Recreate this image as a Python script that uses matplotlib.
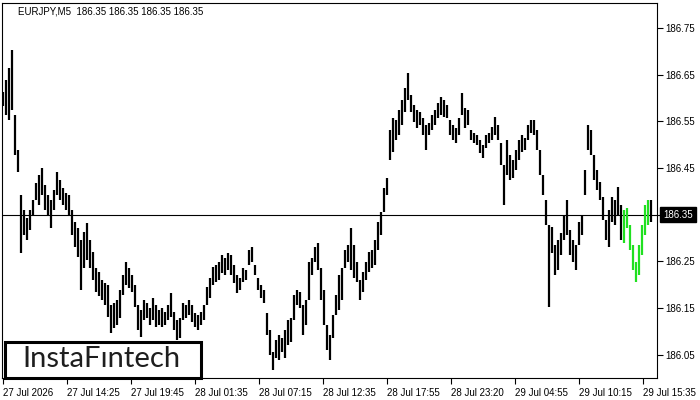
import numpy as np
import matplotlib
matplotlib.use("Agg")
import matplotlib.pyplot as plt
from matplotlib.patches import Rectangle

# ---- data: 15-minute groups of EURJPY M5 bars (high / low) ----
highs = [186.613,186.639,186.664,186.703,186.564,186.489,186.393,186.360,186.343,186.360,
         186.382,186.418,186.435,186.450,186.414,186.393,186.382,186.403,186.442,186.425,
         186.407,186.397,186.393,186.360,186.335,186.322,186.296,186.313,186.333,186.296,
         186.270,186.236,186.228,186.210,186.204,186.200,186.157,186.161,186.168,186.189,
         186.221,186.249,186.236,186.221,186.200,186.157,186.146,186.168,186.161,186.151,
         186.172,186.157,186.146,186.151,186.142,186.157,186.183,186.142,186.125,186.129,
         186.161,186.157,186.168,186.157,186.140,186.136,186.142,186.157,186.196,186.215,
         186.238,186.243,186.249,186.264,186.258,186.268,186.264,186.243,186.221,186.215,
         186.236,186.232,186.275,186.281,186.243,186.215,186.200,186.189,186.140,186.103,
         186.056,186.082,186.093,186.086,186.103,186.125,186.129,186.178,186.189,186.185,
         186.157,186.168,186.249,186.258,186.281,186.290,186.236,186.189,186.114,186.093,
         186.136,186.178,186.221,186.236,186.275,186.285,186.322,186.285,186.249,186.210,
         186.228,186.249,186.270,186.275,186.296,186.335,186.356,186.407,186.429,186.532,
         186.557,186.553,186.574,186.596,186.622,186.654,186.607,186.585,186.574,186.570,
         186.557,186.542,186.547,186.564,186.574,186.589,186.602,186.596,186.585,186.553,
         186.542,186.536,186.557,186.611,186.579,186.574,186.532,186.525,186.521,186.510,
         186.500,186.521,186.525,186.538,186.560,186.542,186.504,186.457,186.510,186.478,
         186.467,186.489,186.510,186.521,186.515,186.542,186.553,186.553,186.532,186.489,
         186.435,186.382,186.328,186.324,186.285,186.296,186.311,186.350,186.382,186.318,
         186.296,186.285,186.335,186.350,186.446,186.542,186.532,186.478,186.446,186.420,
         186.388,186.339,186.360,186.388,186.382,186.410,186.371,186.360,186.365,186.328,
         186.285,186.249,186.285,186.328,186.371,186.382,186.382]
lows = [186.583,186.564,186.553,186.574,186.478,186.442,186.268,186.307,186.296,186.318,
        186.350,186.382,186.371,186.393,186.360,186.350,186.322,186.360,186.393,186.382,
        186.371,186.360,186.350,186.307,186.281,186.260,186.189,186.236,186.253,186.236,
        186.210,186.185,186.176,186.168,186.157,186.131,186.097,186.108,186.114,186.129,
        186.178,186.200,186.193,186.185,186.153,186.104,186.088,186.125,186.129,186.114,
        186.125,186.110,186.114,186.110,186.114,186.125,186.131,186.103,186.082,186.086,
        186.125,186.129,186.136,186.121,186.110,186.103,186.114,186.125,186.157,186.172,
        186.200,186.206,186.210,186.225,186.221,186.232,186.221,186.204,186.183,186.189,
        186.206,186.210,186.243,186.249,186.221,186.189,186.172,186.161,186.093,186.050,
        186.018,186.044,186.039,186.056,186.044,186.071,186.078,186.125,186.157,186.151,
        186.093,186.114,186.168,186.221,186.249,186.232,186.168,186.114,186.061,186.039,
        186.086,186.136,186.146,186.168,186.236,186.249,186.232,186.215,186.206,186.168,
        186.185,186.210,186.228,186.236,186.243,186.275,186.307,186.356,186.393,186.467,
        186.484,186.510,186.521,186.542,186.570,186.596,186.570,186.549,186.536,186.542,
        186.521,186.489,186.521,186.532,186.542,186.557,186.564,186.560,186.557,186.521,
        186.510,186.504,186.521,186.564,186.536,186.542,186.510,186.504,186.500,186.482,
        186.472,186.493,186.504,186.510,186.521,186.510,186.457,186.371,186.435,186.425,
        186.429,186.446,186.467,186.484,186.489,186.510,186.525,186.521,186.489,186.435,
        186.393,186.328,186.153,186.268,186.221,186.232,186.264,186.296,186.307,186.264,
        186.249,186.232,186.285,186.307,186.393,186.489,186.478,186.425,186.403,186.382,
        186.339,186.296,186.281,186.335,186.328,186.350,186.296,186.290,186.322,186.275,
        186.232,186.206,186.221,186.264,186.307,186.328,186.335]
pattern_start, pattern_end = 207, 215   # bars highlighted in green
last_price = 186.35
title = "EURJPY,M5  186.35 186.35 186.35 186.35"
x_labels = ["27 Jul 2026", "27 Jul 14:25", "27 Jul 19:45", "28 Jul 01:35", "28 Jul 07:15",
            "28 Jul 12:35", "28 Jul 17:55", "28 Jul 23:20", "29 Jul 04:55", "29 Jul 10:15",
            "29 Jul 15:35"]
y_ticks = [186.05, 186.15, 186.25, 186.35, 186.45, 186.55, 186.65, 186.75]

plt.rcParams['font.family'] = ['Liberation Sans', 'DejaVu Sans']

fig = plt.figure(figsize=(7, 4), dpi=100)
fig.patch.set_facecolor('white')
ax = fig.add_axes([2/700, 22/400, 655/700, 375.3/400])

n = len(highs)
idx = np.arange(n)
colors = ['#20e020' if pattern_start <= i <= pattern_end else 'black' for i in idx]
ax.vlines(idx, lows, highs, colors=colors, linewidth=1.6, zorder=3)

ax.axhline(last_price, color='black', linewidth=0.8, zorder=2)

ax.set_xlim(-1/3, 218)
ax.set_ylim(186.0005, 186.804)

ax.yaxis.tick_right()
ax.set_yticks(y_ticks)
# the last-price box covers the 186.35 level label
ax.set_yticklabels(["" if abs(v - last_price) < 1e-9 else f"{v:.2f}" for v in y_ticks])
ax.set_xticks(np.arange(len(x_labels)) * 64 / 3)
ax.set_xticklabels(x_labels, ha='left')
ax.tick_params(axis='both', direction='out', length=4, width=0.8, labelsize=7, colors='black', pad=2)
ax.tick_params(axis='x', pad=3)
for s in ax.spines.values():
    s.set_linewidth(0.8)
    s.set_color('black')

# title
fig.text(18/700, 1 - 12/400, title, fontsize=7, va='center', ha='left', color='black')

# price label
fig.text(663/700, 1 - 214.5/400, f"{last_price:.2f}", fontsize=7, color='white', va='center', ha='left',
         bbox=dict(boxstyle='square,pad=0.3', facecolor='black', edgecolor='black'))

# logo
fig.patches.append(Rectangle((4.5/700, 22.5/400), 196/700, 36/400, transform=fig.transFigure,
                             facecolor='white', edgecolor='black', linewidth=2.2, zorder=5))
fig.text(101/700, 1 - 359/400, "InstaF\u0131ntech", fontsize=21, color='#1e1e1e',
         family=['Lato', 'DejaVu Sans'], va='center', ha='center', zorder=6)

fig.savefig("out.png", dpi=100)
